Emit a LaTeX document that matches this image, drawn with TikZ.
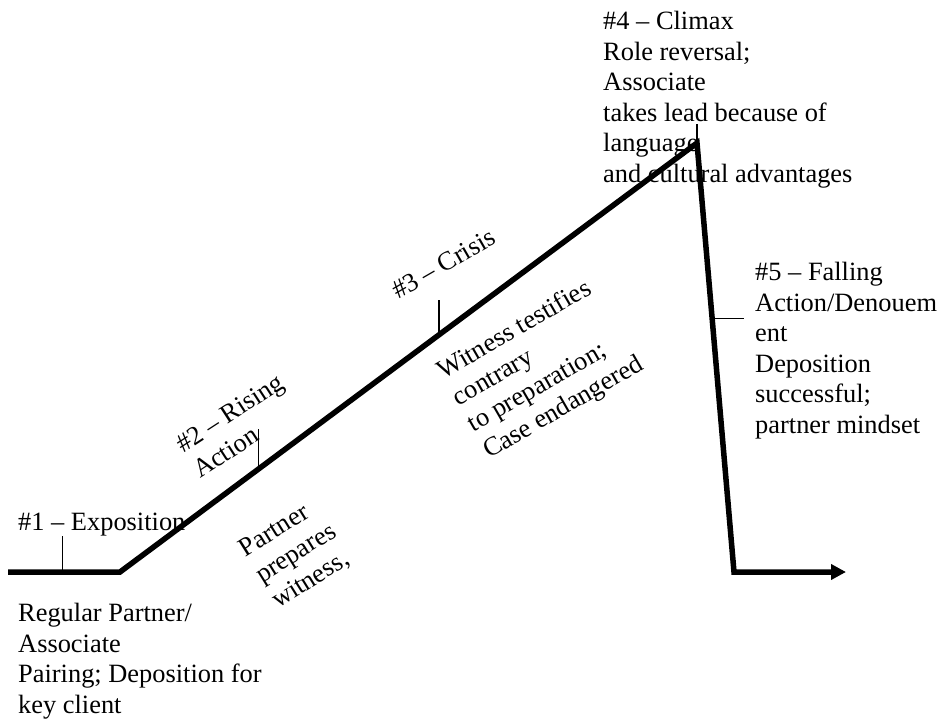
\documentclass[tikz,border=0pt]{standalone}
\usepackage{fontspec}
\setmainfont{Liberation Serif}
\usetikzlibrary{calc,positioning,arrows.meta}
\tikzset{
	plotline/.style={
		draw=black,
		line width=5.5pt,
		line join=miter},
	tickline/.style={draw=black, line width=1.2pt},
	stagetext/.style={
		anchor=base west,
		inner sep=0pt,
		align=left,
		font=\fontsize{26.4}{30.5}\selectfont},
}

\begin{document}
\begin{tikzpicture}
[x=1pt, y=-1pt]
\useasboundingbox (0,0) rectangle (943,720);

\coordinate (start)  at (8,572);
\coordinate (base)   at (120,572);
\coordinate (peak)   at (697,143);
\coordinate (bottom) at (734,572);
\coordinate (end)    at (846,572);

\draw[plotline, -{Triangle[length=15pt,width=15pt]}]
	(start) -- (base) -- (peak) -- (bottom) -- (end);

\coordinate (t1) at ($(start)!0.49!(base)$);
\coordinate (t2) at ($(base)!0.24!(peak)$);
\coordinate (t3) at ($(base)!0.553!(peak)$);
\coordinate (t4) at (peak);
\coordinate (t5) at ($(peak)!0.41!(bottom)$);

\draw[tickline] (t1) -- ++(0,-36);
\draw[tickline] (t2) -- ++(0,-40);
\draw[tickline] (t3) -- ++(0,-35);
\draw[tickline] (t4) -- ++(0,-19);
\draw[tickline] (t5) -- ++(32,0);

% base west = baseline of the last line
\node[stagetext] (expo) at (18,530) {\#1 – Exposition};
\node[stagetext] (expotxt) at (18,713)
	{Regular Partner/\\Associate\\Pairing; Deposition for\\key client};
\node[stagetext, rotate=33] (rising) at (200,479) {\#2 – Rising\\Action};
\node[stagetext, rotate=32] (risingtxt) at (278,609) {Partner\\prepares\\witness,};
\node[stagetext, rotate=30] (crisis) at (398,300) {\#3 – Crisis};
\node[stagetext, rotate=30] (crisistxt) at (489,459)
	{Witness testifies\\contrary\\to preparation;\\Case endangered};
\node[stagetext] (climax) at (603,182)
	{\#4 – Climax\\Role reversal;\\Associate\\takes lead because of\\language\\and cultural advantages};
\node[stagetext] (falling) at (755,433)
	{\#5 – Falling\\Action/Denouem\\ent\\Deposition\\successful;\\partner mindset};

\end{tikzpicture}
\end{document}
